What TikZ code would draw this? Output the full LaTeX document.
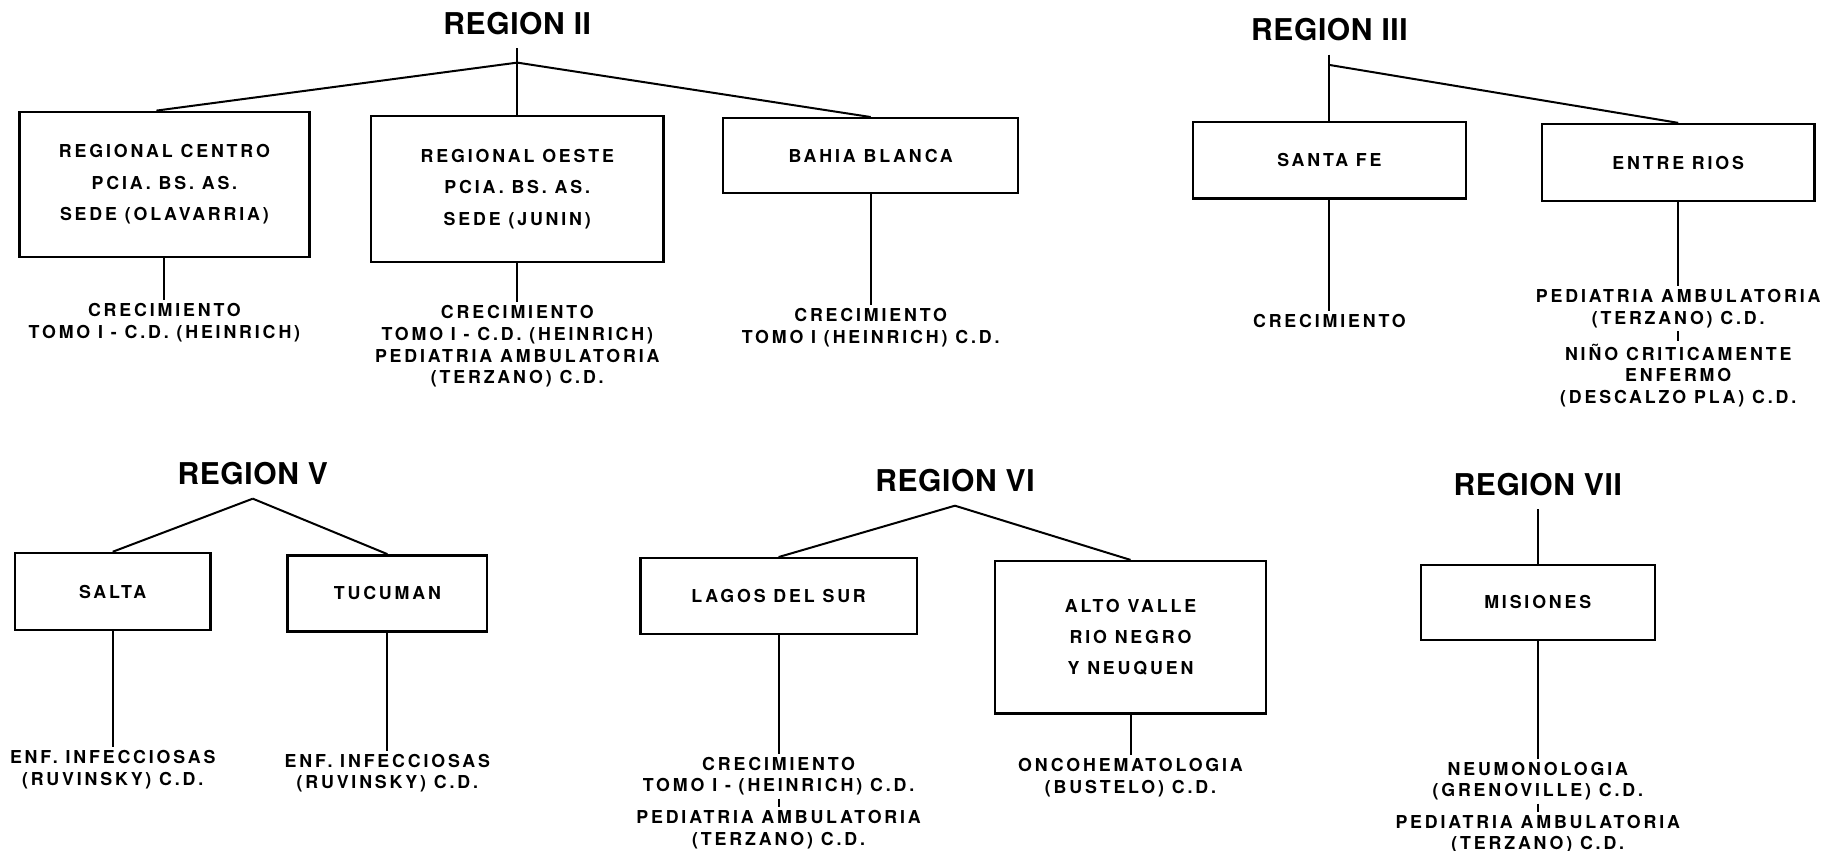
\documentclass[tikz,border=0pt]{standalone}
\usepackage{fontspec}
\usepackage{tikz}
\newfontfamily\letra[LetterSpace=16]{TeX Gyre Heros}
\newfontfamily\letrat[LetterSpace=2]{TeX Gyre Heros}

\begin{document}
\begin{tikzpicture}[-, x=0.585pt, y=-0.585pt,
  titulo/.style={font=\letrat\bfseries\fontsize{15}{17}\selectfont, inner xsep=2pt, inner ysep=6.5pt},
  sede/.style={draw, line width=1.2pt, inner sep=0pt, align=center, font=\letra\bfseries\fontsize{8.9}{15.7}\selectfont},
  curso/.style={anchor=north, inner sep=1.5pt, align=center, font=\letra\bfseries\fontsize{8.9}{10.8}\selectfont},
  every edge/.style={draw, line width=1pt}]
\useasboundingbox (0,0) rectangle (1568,727);
% region II
\node[titulo] (r2) at (442,20) {REGION II};
\coordinate (j2) at (442,53.5);
\node[sede, minimum width=145pt, minimum height=72.5pt] (centro) at (140.5,157.5) {REGIONAL CENTRO\\PCIA. BS. AS.\\SEDE (OLAVARRIA)};
\node[sede, minimum width=146.3pt, minimum height=73.1pt] (oeste) at (442,161.5) {REGIONAL OESTE\\PCIA. BS. AS.\\SEDE (JUNIN)};
\node[sede, minimum width=147.4pt, minimum height=37.4pt] (bahia) at (744,133) {BAHIA BLANCA};
\node[curso] (c1) at (140.5,256.4) {CRECIMIENTO\\TOMO I - C.D. (HEINRICH)};
\node[curso] (c2) at (442,258.4) {CRECIMIENTO\\TOMO I - C.D. (HEINRICH)\\PEDIATRIA AMBULATORIA\\(TERZANO) C.D.};
\node[curso] (c3) at (744,260.9) {CRECIMIENTO\\TOMO I (HEINRICH) C.D.};
\path
(r2.south) edge (oeste.north)
(j2) edge ([xshift=-4pt]centro.north)
(j2) edge (bahia.north)
(centro) edge (c1)
(oeste) edge (c2)
(bahia) edge (c3);
% region III
\node[titulo] (r3) at (1136,25.6) {REGION III};
\coordinate (j3) at (1136,55.5);
\node[sede, minimum width=136.3pt, minimum height=38.3pt] (santafe) at (1136,137) {SANTA FE};
\node[sede, minimum width=136.3pt, minimum height=38.6pt] (entrerios) at (1434,139) {ENTRE RIOS};
\node[curso] (c4) at (1136,265.4) {CRECIMIENTO};
\node[curso] (c5) at (1434,244.4) {PEDIATRIA AMBULATORIA\\(TERZANO) C.D.};
\node[curso] (c6) at (1434,291) {NIÑO CRITICAMENTE\\ENFERMO\\(DESCALZO PLA) C.D.};
\path
(r3.south) edge (santafe.north)
(j3) edge (entrerios.north)
(santafe) edge (c4)
(entrerios) edge (c5)
(c5) edge (c6);
% region V
\node[titulo] (r5) at (216,405) {REGION V};
\node[sede, minimum width=97.7pt, minimum height=38.6pt] (salta) at (96.3,505.5) {SALTA};
\node[sede, minimum width=99.8pt, minimum height=38pt] (tucuman) at (331,507) {TUCUMAN};
\node[curso] (c7) at (96.3,638.2) {ENF. INFECCIOSAS\\(RUVINSKY) C.D.};
\node[curso] (c8) at (331,641.4) {ENF. INFECCIOSAS\\(RUVINSKY) C.D.};
\path
(r5.south) edge (salta.north)
(r5.south) edge (tucuman.north)
(salta) edge (c7)
(tucuman) edge (c8);
% region VI
\node[titulo] (r6) at (816,411) {REGION VI};
\node[sede, minimum width=138.1pt, minimum height=38pt] (lagos) at (665.3,509.5) {LAGOS DEL SUR};
\node[sede, minimum width=135.7pt, minimum height=76.1pt] (altovalle) at (966,544.5) {ALTO VALLE\\RIO NEGRO\\Y NEUQUEN};
\node[curso] (c9) at (665.3,643.9) {CRECIMIENTO\\TOMO I - (HEINRICH) C.D.};
\node[curso] (c10) at (665.3,689.4) {PEDIATRIA AMBULATORIA\\(TERZANO) C.D.};
\node[curso] (c11) at (966,645.1) {ONCOHEMATOLOGIA\\(BUSTELO) C.D.};
\path
(r6.south) edge (lagos.north)
(r6.south) edge (altovalle.north)
(lagos) edge (c9)
(c9) edge (c10)
(altovalle) edge (c11);
% region VII
\node[titulo] (r7) at (1314,414) {REGION VII};
\node[sede, minimum width=117pt, minimum height=37.4pt] (misiones) at (1314,514.8) {MISIONES};
\node[curso] (c12) at (1314,648.2) {NEUMONOLOGIA\\(GRENOVILLE) C.D.};
\node[curso] (c13) at (1314,693.5) {PEDIATRIA AMBULATORIA\\(TERZANO) C.D.};
\path
(r7.south) edge (misiones.north)
(misiones) edge (c12)
(c12) edge (c13);
\end{tikzpicture}
\end{document}
